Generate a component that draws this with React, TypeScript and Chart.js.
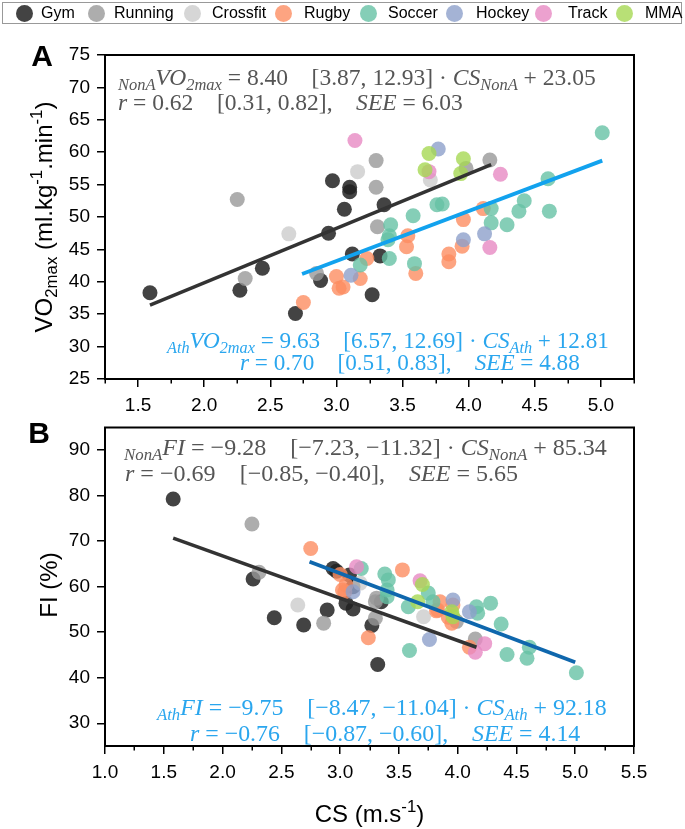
import React, { useEffect, useRef } from 'react';
import { Chart, registerables } from 'chart.js';
Chart.register(...registerables);

type Pt = [number, number];

const SPORTS = ['Gym', 'Running', 'Crossfit', 'Rugby', 'Soccer', 'Hockey', 'Track', 'MMA'];
const SPORT_COLORS = [
  'rgba(34,34,34,0.85)',
  'rgba(153,153,153,0.8)',
  'rgba(204,204,204,0.8)',
  'rgba(252,141,98,0.8)',
  'rgba(102,194,165,0.8)',
  'rgba(141,160,203,0.8)',
  'rgba(231,138,195,0.8)',
  'rgba(166,216,84,0.8)',
];

// Panel A: [CS, VO2max]
const gymA: Pt[] = [[1.59, 38.3], [2.27, 38.7], [2.44, 42.1], [2.69, 35.1], [2.88, 40.2], [2.94, 47.5], [2.97, 55.6], [3.10, 54.6], [3.10, 53.9], [3.06, 51.2], [3.12, 44.3], [3.27, 38.0], [3.33, 44.0], [3.36, 51.9]];
const runningA: Pt[] = [[2.25, 52.7], [2.31, 40.5], [2.85, 41.3], [3.30, 58.7], [3.30, 54.6], [3.31, 48.5], [3.98, 57.5], [4.16, 58.8]];
const crossfitA: Pt[] = [[2.64, 47.4], [3.16, 57.0], [3.71, 55.7]];
const rugbyA: Pt[] = [[2.75, 36.8], [3.00, 40.8], [3.02, 39.0], [3.05, 39.2], [3.18, 40.5], [3.23, 43.6], [3.54, 47.1], [3.53, 45.4], [3.60, 41.3], [3.96, 49.6], [3.95, 45.5], [3.85, 44.3], [3.85, 43.1], [4.11, 51.3]];
const soccerA: Pt[] = [[3.18, 42.6], [3.41, 48.8], [3.40, 47.1], [3.39, 46.5], [3.58, 50.2], [3.40, 43.6], [3.59, 42.8], [3.76, 51.9], [3.80, 52.0], [4.17, 51.3], [4.17, 49.1], [4.29, 48.8], [4.38, 50.9], [4.42, 52.5], [4.60, 55.9], [4.61, 50.9], [5.01, 63.0]];
const hockeyA: Pt[] = [[3.11, 41.0], [3.77, 60.5], [3.96, 46.5], [4.12, 47.4]];
const trackA: Pt[] = [[3.14, 61.8], [3.70, 57.0], [4.24, 56.6], [4.16, 45.3]];
const mmaA: Pt[] = [[3.70, 59.8], [3.67, 57.3], [3.96, 59.0], [3.94, 56.7]];

// Panel B: [CS, FI]
const gymB: Pt[] = [[1.58, 79.3], [2.26, 61.7], [2.44, 53.2], [2.69, 51.6], [2.89, 54.9], [2.94, 64.0], [2.97, 63.4], [3.08, 62.6], [3.11, 60.0], [3.05, 56.4], [3.11, 55.1], [3.27, 51.5], [3.32, 42.9], [3.35, 56.7]];
const runningB: Pt[] = [[2.25, 73.8], [2.31, 63.2], [2.86, 52.0], [3.30, 56.7], [3.30, 53.1], [3.31, 57.5], [3.99, 52.4], [4.15, 48.5]];
const crossfitB: Pt[] = [[2.64, 56.0], [3.17, 60.8], [3.71, 53.4]];
const rugbyB: Pt[] = [[2.75, 68.4], [3.00, 62.7], [3.02, 59.3], [3.04, 58.9], [3.05, 60.4], [3.24, 48.8], [3.53, 63.7], [3.82, 54.7], [3.85, 56.7], [3.83, 54.9], [3.96, 56.0], [3.92, 53.3], [3.95, 52.0], [4.10, 46.7]];
const soccerB: Pt[] = [[3.18, 64.0], [3.38, 62.8], [3.41, 61.5], [3.40, 59.3], [3.40, 57.8], [3.58, 55.6], [3.59, 46.0], [3.75, 58.6], [3.79, 56.7], [4.16, 55.6], [4.17, 54.2], [4.28, 56.4], [4.37, 51.8], [4.42, 45.1], [4.59, 44.3], [4.61, 46.7], [5.01, 41.1]];
const hockeyB: Pt[] = [[3.11, 58.9], [3.76, 48.4], [3.96, 57.1], [4.10, 54.5]];
const trackB: Pt[] = [[3.14, 64.4], [3.68, 61.3], [4.15, 45.6], [4.23, 47.5]];
const mmaB: Pt[] = [[3.70, 60.5], [3.66, 56.7], [3.95, 54.5], [3.96, 53.4]];

// Regression lines (end points)
const nonAFitA: Pt[] = [[1.59, 36.4], [4.17, 58.1]];
const athFitA: Pt[] = [[2.74, 41.2], [5.01, 58.7]];
const nonAFitB: Pt[] = [[1.58, 70.7], [4.16, 46.7]];
const athFitB: Pt[] = [[2.74, 65.5], [5.00, 43.4]];

// Axis ticks
const yTicksA = [25, 30, 35, 40, 45, 50, 55, 60, 65, 70, 75];
const yTicksB = [30, 40, 50, 60, 70, 80, 90];

const SANS = '"Liberation Sans", Arial, sans-serif';
const SERIF = '"Liberation Serif", "Times New Roman", serif';
const NONA_TEXT = '#555555';
const ATH_TEXT = '#2aa6ee';

type Seg = { t: string; it?: boolean; sub?: boolean; sup?: boolean; b?: boolean };

function fontOf(s: Seg, size: number, family: string) {
  const sz = s.sub || s.sup ? size * 0.7 : size;
  return `${s.it ? 'italic ' : ''}${s.b ? 'bold ' : ''}${sz}px ${family}`;
}
function richWidth(ctx: CanvasRenderingContext2D, segs: Seg[], size: number, family: string) {
  let w = 0;
  for (const s of segs) {
    ctx.font = fontOf(s, size, family);
    w += ctx.measureText(s.t).width;
  }
  return w;
}
function drawRich(ctx: CanvasRenderingContext2D, segs: Seg[], x: number, baseline: number, size: number, family: string, color: string) {
  ctx.fillStyle = color;
  ctx.textAlign = 'left';
  ctx.textBaseline = 'alphabetic';
  let cx = x;
  for (const s of segs) {
    ctx.font = fontOf(s, size, family);
    const dy = s.sub ? size * 0.22 : s.sup ? -size * 0.42 : 0;
    ctx.fillText(s.t, cx, baseline + dy);
    cx += ctx.measureText(s.t).width;
  }
}

const Q = '\u2003';
const eqA1: Seg[] = [{ t: 'NonA', it: true, sub: true }, { t: 'VO', it: true }, { t: '2max', it: true, sub: true }, { t: ' = 8.40' + Q + '[3.87, 12.93] · ' }, { t: 'CS', it: true }, { t: 'NonA', it: true, sub: true }, { t: ' + 23.05' }];
const eqA2: Seg[] = [{ t: 'r', it: true }, { t: ' = 0.62' + Q + '[0.31, 0.82],' + Q }, { t: 'SEE', it: true }, { t: ' = 6.03' }];
const eqA3: Seg[] = [{ t: 'Ath', it: true, sub: true }, { t: 'VO', it: true }, { t: '2max', it: true, sub: true }, { t: ' = 9.63' + Q + '[6.57, 12.69] · ' }, { t: 'CS', it: true }, { t: 'Ath', it: true, sub: true }, { t: ' + 12.81' }];
const eqA4: Seg[] = [{ t: 'r', it: true }, { t: ' = 0.70' + Q + '[0.51, 0.83],' + Q }, { t: 'SEE', it: true }, { t: ' = 4.88' }];
const eqB1: Seg[] = [{ t: 'NonA', it: true, sub: true }, { t: 'FI', it: true }, { t: ' = \u22129.28' + Q + '[\u22127.23, \u221211.32] · ' }, { t: 'CS', it: true }, { t: 'NonA', it: true, sub: true }, { t: ' + 85.34' }];
const eqB2: Seg[] = [{ t: 'r', it: true }, { t: ' = \u22120.69' + Q + '[\u22120.85, \u22120.40],' + Q }, { t: 'SEE', it: true }, { t: ' = 5.65' }];
const eqB3: Seg[] = [{ t: 'Ath', it: true, sub: true }, { t: 'FI', it: true }, { t: ' = \u22129.75' + Q + '[\u22128.47, \u221211.04] · ' }, { t: 'CS', it: true }, { t: 'Ath', it: true, sub: true }, { t: ' + 92.18' }];
const eqB4: Seg[] = [{ t: 'r', it: true }, { t: ' = \u22120.76' + Q + '[\u22120.87, \u22120.60],' + Q }, { t: 'SEE', it: true }, { t: ' = 4.14' }];

const yTitleA: Seg[] = [{ t: 'VO' }, { t: '2max', sub: true }, { t: ' (ml.kg' }, { t: '-1', sup: true }, { t: '.min' }, { t: '-1', sup: true }, { t: ')' }];
const yTitleB: Seg[] = [{ t: 'FI (%)' }];
const xTitle: Seg[] = [{ t: 'CS (m.s' }, { t: '-1', sup: true }, { t: ')' }];

type Block = { l1: Seg[]; l2: Seg[]; x1: number; y1: number; w1: number; x2: number; y2: number; color: string };

type PanelCfg = {
  series: Pt[][];
  nonAFit: Pt[];
  athFit: Pt[];
  athColor: string;
  xMin: number; xMax: number;
  yMin: number; yMax: number; yTicks: number[];
  padding: { top: number; right: number; bottom: number; left: number };
  blocks: Block[];
  letter: string; letterPos: [number, number];
  yTitle: Seg[]; yTitlePos: [number, number];
  xTitlePos?: [number, number];
};

const isMajor = (v: number) => Math.abs(v * 2 - Math.round(v * 2)) < 1e-6;

function makeChart(canvas: HTMLCanvasElement, p: PanelCfg) {
  const toXY = (a: Pt[]) => a.map(([x, y]) => ({ x, y }));
  const datasets: any[] = [
    { type: 'line', data: toXY(p.nonAFit), borderColor: '#333333', borderWidth: 3.5, pointRadius: 0, order: 0, tension: 0, fill: false },
    { type: 'line', data: toXY(p.athFit), borderColor: p.athColor, borderWidth: 3.8, pointRadius: 0, order: 0, tension: 0, fill: false },
    ...SPORTS.map((name, i) => ({
      type: 'scatter', label: name, data: toXY(p.series[i]), backgroundColor: SPORT_COLORS[i],
      borderWidth: 0, pointRadius: 7.5, pointHoverRadius: 7.5, order: 9 - i,
    })),
  ];
  const textPlugin = {
    id: 'texts',
    afterDraw(chart: any) {
      const ctx: CanvasRenderingContext2D = chart.ctx;
      const a = chart.chartArea;
      ctx.save();
      ctx.strokeStyle = '#000';
      ctx.lineWidth = 2;
      ctx.strokeRect(a.left, a.top, a.right - a.left, a.bottom - a.top);
      // minor x ticks (shorter)
      const xs = chart.scales.x;
      ctx.lineWidth = 1.5;
      ctx.beginPath();
      for (const t of xs.ticks) {
        if (isMajor(t.value)) continue;
        const px = Math.round(xs.getPixelForValue(t.value)) + 0.25;
        ctx.moveTo(px, a.bottom);
        ctx.lineTo(px, a.bottom + 4.5);
      }
      ctx.stroke();
      for (const b of p.blocks) {
        const size = (20 * b.w1) / richWidth(ctx, b.l1, 20, SERIF);
        drawRich(ctx, b.l1, b.x1, b.y1 + size * 0.33, size, SERIF, b.color);
        drawRich(ctx, b.l2, b.x2, b.y2 + size * 0.33, size, SERIF, b.color);
      }
      ctx.font = `bold 30px ${SANS}`;
      ctx.fillStyle = '#000';
      ctx.textAlign = 'center';
      ctx.textBaseline = 'middle';
      ctx.fillText(p.letter, p.letterPos[0], p.letterPos[1]);
      const ts = 24;
      ctx.save();
      ctx.translate(p.yTitlePos[0], p.yTitlePos[1]);
      ctx.rotate(-Math.PI / 2);
      const w = richWidth(ctx, p.yTitle, ts, SANS);
      drawRich(ctx, p.yTitle, -w / 2, ts * 0.36, ts, SANS, '#000');
      ctx.restore();
      if (p.xTitlePos) {
        const wx = richWidth(ctx, xTitle, ts, SANS);
        drawRich(ctx, xTitle, p.xTitlePos[0] - wx / 2, p.xTitlePos[1] + ts * 0.36, ts, SANS, '#000');
      }
      ctx.restore();
    },
  };
  return new Chart(canvas, {
    type: 'scatter',
    data: { datasets },
    options: {
      animation: false,
      responsive: false,
      devicePixelRatio: 1,
      events: [],
      layout: { padding: p.padding },
      plugins: { legend: { display: false }, tooltip: { enabled: false } },
      scales: {
        x: {
          type: 'linear', min: p.xMin, max: p.xMax,
          afterFit: (s: any) => { s.height = 34; s.paddingLeft = 0; s.paddingRight = 0; },
          grid: {
            drawOnChartArea: false, drawTicks: true, tickLength: 8, lineWidth: 1.5,
            color: '#000',
            tickColor: (c: any) => (c.tick && isMajor(c.tick.value) ? '#000' : 'rgba(0,0,0,0)'),
          },
          border: { display: true, color: '#000', width: 2 },
          ticks: {
            stepSize: 0.25, autoSkip: false, maxRotation: 0, padding: 7, color: '#000',
            font: { family: SANS, size: 19 },
            callback: (v: any) => (isMajor(Number(v)) ? Number(v).toFixed(1) : ''),
          },
        },
        y: {
          type: 'linear', min: p.yMin, max: p.yMax,
          afterFit: (s: any) => { s.width = 105; s.paddingTop = 0; s.paddingBottom = 0; },
          afterBuildTicks: (s: any) => { s.ticks = p.yTicks.map((v) => ({ value: v })); },
          grid: { drawOnChartArea: false, drawTicks: true, tickLength: 8, color: '#000', lineWidth: 1.5 },
          border: { display: true, color: '#000', width: 2 },
          ticks: { autoSkip: false, padding: 7, color: '#000', font: { family: SANS, size: 19 } },
        },
      },
    } as any,
    plugins: [textPlugin],
  });
}

const panelA: PanelCfg = {
  series: [gymA, runningA, crossfitA, rugbyA, soccerA, hockeyA, trackA, mmaA],
  nonAFit: nonAFitA, athFit: athFitA, athColor: '#12a2ee',
  xMin: 1.25, xMax: 5.25, yMin: 25, yMax: 75, yTicks: yTicksA,
  padding: { top: 55, right: 51, bottom: 7, left: 0 },
  blocks: [
    { l1: eqA1, l2: eqA2, x1: 118, y1: 77, w1: 478, x2: 118, y2: 102, color: NONA_TEXT },
    { l1: eqA3, l2: eqA4, x1: 167, y1: 340, w1: 442, x2: 240, y2: 362, color: ATH_TEXT },
  ],
  letter: 'A', letterPos: [42, 58],
  yTitle: yTitleA, yTitlePos: [43, 217],
};

const panelB: PanelCfg = {
  series: [gymB, runningB, crossfitB, rugbyB, soccerB, hockeyB, trackB, mmaB],
  nonAFit: nonAFitB, athFit: athFitB, athColor: '#0f67ad',
  xMin: 1.0, xMax: 5.5, yMin: 25, yMax: 95, yTicks: yTicksB,
  padding: { top: 4, right: 51, bottom: 49, left: 0 },
  blocks: [
    { l1: eqB1, l2: eqB2, x1: 124, y1: 27, w1: 483, x2: 125, y2: 53, color: NONA_TEXT },
    { l1: eqB3, l2: eqB4, x1: 157, y1: 287, w1: 450, x2: 190, y2: 313, color: ATH_TEXT },
  ],
  letter: 'B', letterPos: [39, 15],
  yTitle: yTitleB, yTitlePos: [48, 165],
  xTitlePos: [369.5, 393],
};

const LEGEND_DOT_X = [24, 96, 192, 283, 368, 454, 543, 624];
const LEGEND_TEXT_X = [41, 114, 212, 304, 388, 476, 568, 645];

export default function App() {
  const refA = useRef<HTMLCanvasElement>(null);
  const refB = useRef<HTMLCanvasElement>(null);
  useEffect(() => {
    const a = makeChart(refA.current!, panelA);
    const b = makeChart(refB.current!, panelB);
    return () => { a.destroy(); b.destroy(); };
  }, []);
  return (
    <div style={{ position: 'absolute', left: 0, top: 0, width: 685, height: 829, background: '#fff', overflow: 'hidden' }}>
      <canvas ref={refA} width={685} height={420} style={{ position: 'absolute', left: 0, top: 0, width: 685, height: 420 }} />
      <canvas ref={refB} width={685} height={409} style={{ position: 'absolute', left: 0, top: 420, width: 685, height: 409 }} />
      <div style={{ position: 'absolute', left: 2, top: 2, width: 680, height: 22, border: '1px solid #999', boxSizing: 'border-box' }} />
      {SPORTS.map((s, i) => (
        <React.Fragment key={s}>
          <div style={{ position: 'absolute', left: LEGEND_DOT_X[i] - 8.5, top: 4.5, width: 17, height: 17, borderRadius: '50%', background: SPORT_COLORS[i] }} />
          <div style={{ position: 'absolute', left: LEGEND_TEXT_X[i], top: 3, fontFamily: SANS, fontSize: 16, lineHeight: '19px', color: '#000' }}>{s}</div>
        </React.Fragment>
      ))}
    </div>
  );
}
